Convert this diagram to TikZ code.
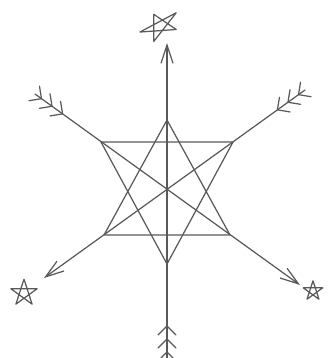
\documentclass[tikz,border=0pt]{standalone}
\usetikzlibrary{arrows.meta}

\begin{document}
\begin{tikzpicture}[
  x=0.03cm,
  y=0.03cm,
  line/.style={draw=black!65, line width=1.05pt, line join=round,
    line cap=round},
  arrow shaft/.style={line, -{Straight Barb[length=5.5mm,width=3.6mm]}},
  fletching/.pic={
    \foreach \d in {8,21,34}
      \draw[line] (\d,0) -- ++(-9,9) (\d,0) -- ++(-9,-9);
  },
  pentagram/.pic={
    \draw[line] (90:12) -- (234:12) -- (18:12) -- (162:12) -- (306:12) -- cycle;
  }
]
  \path[use as bounding box] (0,0) rectangle (327,358);

  % Two crossing triangles.
  \coordinate (up top) at (167,238);
  \coordinate (up left) at (104,123);
  \coordinate (up right) at (230,123);
  \coordinate (down left) at (101,216);
  \coordinate (down right) at (233,216);
  \coordinate (down bottom) at (167,94);
  \draw[line] (up top) -- (up left) -- (up right) -- cycle;
  \draw[line] (down left) -- (down right) -- (down bottom) -- cycle;

  % Three arrows through the figure.
  \coordinate (tail s) at (167,-2);
  \coordinate (head n) at (167,315);
  \coordinate (tail nw) at (35,264);
  \coordinate (head se) at (300,73);
  \coordinate (tail ne) at (305,268);
  \coordinate (head sw) at (44,80);
  \draw[arrow shaft] (tail s) -- (head n);
  \draw[arrow shaft] (tail nw) -- (head se);
  \draw[arrow shaft] (tail ne) -- (head sw);
  \pic (fletch s) [rotate=90] at (tail s) {fletching};
  \pic (fletch nw) [rotate=-35.8] at (tail nw) {fletching};
  \pic (fletch ne) [rotate=215.8] at (tail ne) {fletching};

  % Stars beyond the heads.
  \pic (star n) [rotate=28, xscale=1.8, yscale=1.1] at (160,332) {pentagram};
  \pic (star sw) [scale=1.15] at (24,65) {pentagram};
  \pic (star se) [scale=0.85] at (313,67) {pentagram};
\end{tikzpicture}
\end{document}
